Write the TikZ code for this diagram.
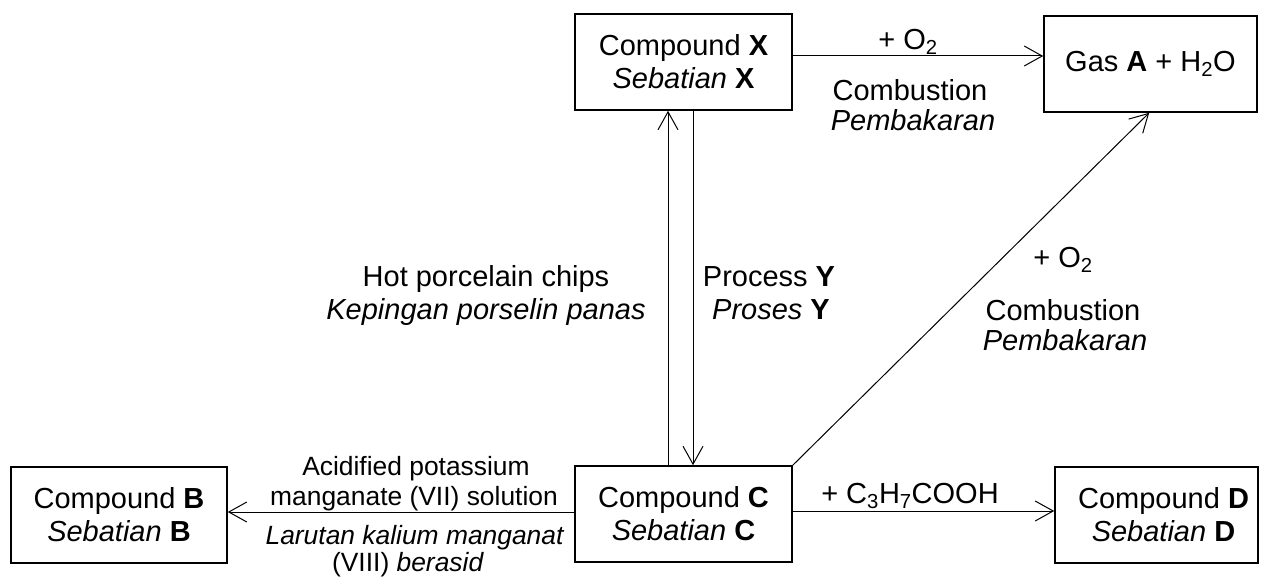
\documentclass[tikz,border=0pt]{standalone}
\usepackage{fontspec}
\setmainfont{Liberation Sans}
\usetikzlibrary{arrows.meta}
\begin{document}
\begin{tikzpicture}[x=1pt,y=-1pt,
  box/.style={draw, line width=1.6pt, rectangle, align=center, inner sep=0pt, font=\fontsize{29}{33}\selectfont},
  lbl/.style={anchor=base, inner sep=0pt, font=\fontsize{29}{33}\selectfont},
  slbl/.style={anchor=base, inner sep=0pt, font=\fontsize{26.4}{30}\selectfont},
  arr/.style={line width=1pt, -{Straight Barb[length=18pt,width=20pt]}}]
\useasboundingbox (0,0) rectangle (1261,578);
% boxes
\node[box, minimum width=217pt, minimum height=96pt] (X) at (683.5,62) {Compound \textbf{X}\\\textit{Sebatian} \textbf{X}};
\node[box, minimum width=213pt, minimum height=96pt] (A) at (1150.5,64) {Gas \textbf{A} + H\textsubscript{2}O};
\node[box, minimum width=216pt, minimum height=96pt] (B) at (119,515) {Compound \textbf{B}\\\textit{Sebatian} \textbf{B}};
\node[box, minimum width=217pt, minimum height=96pt] (C) at (683.5,514) {Compound \textbf{C}\\\textit{Sebatian} \textbf{C}};
\node[box, minimum width=203pt, minimum height=96pt] (D) at (1156.5,515) {\hspace*{14pt}Compound \textbf{D}\\\hspace*{14pt}\textit{Sebatian} \textbf{D}};
% connectors
\draw[arr] ([yshift=6pt]X.east) -- ([yshift=6pt]X.east -| A.west);
\draw[arr] ([xshift=-15.5pt]C.north) -- ([xshift=-15.5pt]C.north |- X.south);
\draw[arr] ([xshift=9.5pt]X.south) -- ([xshift=9.5pt]X.south |- C.north);
\draw[arr] (C.north east) -- ([xshift=106pt]A.south west);
\draw[arr] ([yshift=2pt]C.west) -- ([yshift=2pt]C.west -| B.east);
\draw[arr] ([yshift=3pt]C.east) -- ([yshift=3pt]C.east -| D.west);
% labels: X -> A
\node[lbl] (l1a) at (908,49) {+ O\textsubscript{2}};
\node[lbl] (l1b) at (910,100) {Combustion};
\node[lbl] (l1c) at (913,130) {\textit{Pembakaran}};
% labels: vertical
\node[lbl] (l2a) at (486,286) {Hot porcelain chips};
\node[lbl] (l2b) at (486,319) {\textit{Kepingan porselin panas}};
\node[lbl] (l3a) at (769,286) {Process \textbf{Y}};
\node[lbl] (l3b) at (771,319) {\textit{Proses} \textbf{Y}};
% labels: diagonal
\node[lbl] (l4a) at (1063,267) {+ O\textsubscript{2}};
\node[lbl] (l4b) at (1063,320) {Combustion};
\node[lbl] (l4c) at (1065,350) {\textit{Pembakaran}};
% labels: C -> B
\node[slbl] (l5a) at (416,475) {Acidified potassium};
\node[slbl] (l5b) at (414,505) {manganate (VII) solution};
\node[slbl] (l5c) at (415,544) {\textit{Larutan kalium manganat}};
\node[slbl] (l5d) at (408,571) {(VIII) \textit{berasid}};
% labels: C -> D
\node[lbl] (l6a) at (910,503) {+ C\textsubscript{3}H\textsubscript{7}COOH};
\end{tikzpicture}
\end{document}
